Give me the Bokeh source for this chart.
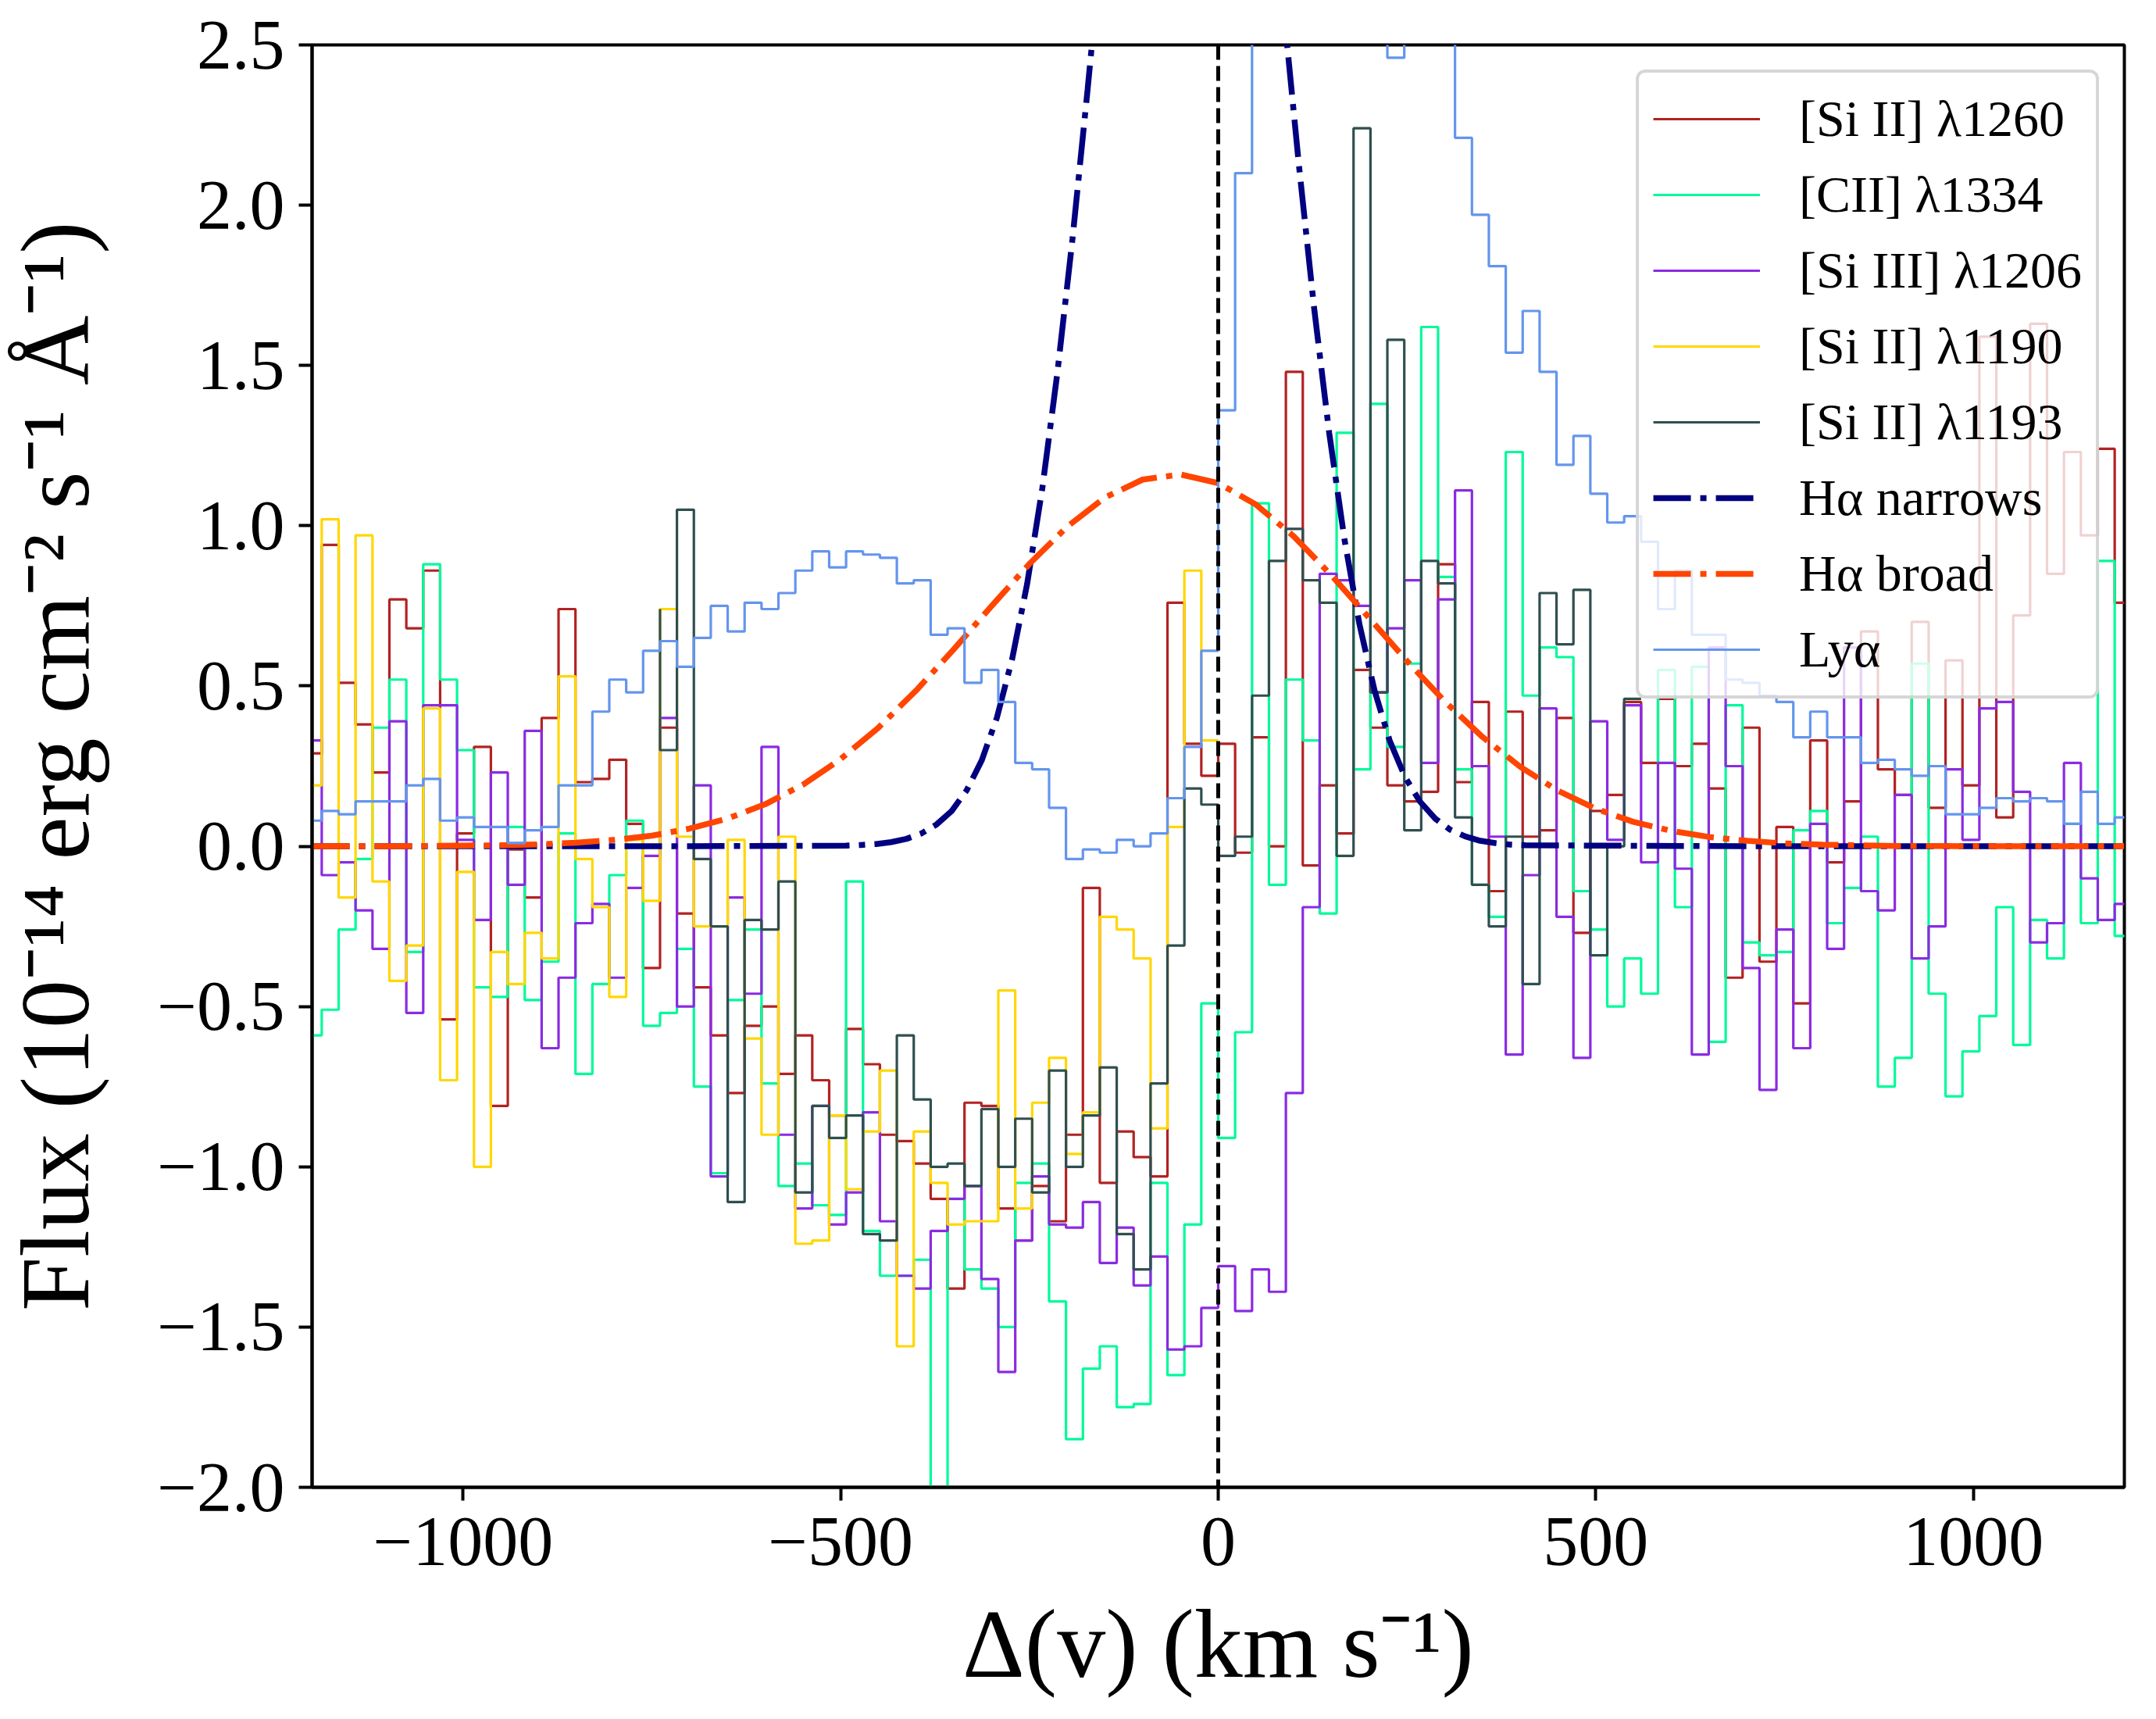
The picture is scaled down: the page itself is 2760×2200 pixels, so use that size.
import numpy as np
from bokeh.plotting import figure
from bokeh.models import (Legend, LegendItem, Span, FixedTicker,
                          CustomJSTickFormatter)
from bokeh.embed import file_html
from bokeh.resources import INLINE

# ---------------------------------------------------------------- data
# Common velocity binning (km/s): bin k spans [BIN_W*(k-53), BIN_W*(k-52)]
BIN_W = 22.4
ZERO_BIN = 53

# fluxes (1e-14 erg cm^-2 s^-1 A^-1) per bin, bins -1 .. 106
si2_1260 = [0.29, 0.94, 0.51, 0.38, 0.23, 0.77, 0.68, 0.86, -0.54, 0.04,
            0.31, -0.81, -0.01, -0.16, 0.40, 0.74, 0.20, 0.21, 0.27, 0.07,
            -0.38, 0.37, -0.21, -0.44, -0.59, -0.77, -0.56, -0.50, -0.71, -0.59,
            -0.73, -0.84, -0.57, -0.68, -0.90, -0.92, -0.99, -1.10, -1.38, -0.80,
            -0.81, -1.13, -1.23, -1.06, -1.17, -0.90, -0.13, -1.05, -0.89, -0.97,
            -1.03, 0.76, 0.32, 0.22, 0.32, -0.02, 0.34, 0.00, 1.48, -0.06,
            0.19, 0.04, 0.55, 0.37, 0.19, 0.14, 0.17, 0.88, 0.20, 0.45,
            -0.14, 0.42, 0.03, 0.05, 0.40, -0.27, 0.11, 0.16, 0.45, 0.26,
            0.46, 0.25, 0.32, 0.18, -0.41, 0.37, -0.36, 0.06, -0.49, 0.33,
            -0.05, 0.14, 0.67, 0.24, 0.16, 0.70, 0.12, 0.58, 0.19, 1.59,
            0.09, 0.72, 1.63, 0.85, 1.23, 0.97, 1.24, 0.76]

cii_1334 = [-0.59, -0.51, -0.26, -0.04, 0.37, 0.52, -0.33, 0.88, 0.52, 0.30,
            -0.44, -0.47, 0.06, -0.48, -0.36, 0.04, -0.71, -0.43, -0.09, 0.08,
            -0.56, -0.52, -0.32, -0.75, -1.02, -0.48, -0.26, -0.74, -1.06, -0.99,
            -1.12, -1.15, -0.11, -1.20, -1.34, -1.34, -1.29, -2.10, -1.10, -1.32,
            -1.38, -1.50, -1.05, -0.99, -1.42, -1.85, -1.63, -1.56, -1.75, -1.74,
            -1.05, -1.65, -1.18, -0.49, -0.91, -0.58, 1.07, -0.12, 0.52, 0.33,
            -0.21, 1.29, 0.24, 1.38, 0.31, 0.57, 1.62, 0.84, 0.24, -0.12,
            -0.22, 1.23, 0.47, 0.62, 0.59, -0.14, -0.26, -0.50, -0.35, -0.46,
            0.55, -0.19, 0.56, -0.61, 0.44, -0.30, -0.34, -0.33, 0.05, 0.11,
            -0.24, -0.13, 0.03, -0.75, -0.66, 0.57, -0.46, -0.78, -0.64, -0.53,
            -0.19, -0.62, -0.23, -0.35, 0.07, -0.24, 0.89, -0.28]

si3_1206 = [0.33, -0.09, -0.05, -0.20, -0.32, 0.39, -0.52, 0.44, 0.44, 0.02,
            -0.23, 0.23, -0.12, 0.36, -0.63, -0.41, -0.24, -0.18, -0.41, -0.13,
            -0.03, 0.40, -0.50, 0.19, -1.03, -0.16, -0.46, 0.31, -0.90, -1.13,
            -0.81, -1.18, -1.08, -0.83, -1.17, -1.34, -1.38, -1.20, -1.10, -1.06,
            -1.35, -1.64, -1.23, -1.03, -1.18, -1.19, -1.11, -1.30, -1.19, -1.37,
            -1.28, -1.57, -1.56, -1.44, -1.31, -1.45, -1.32, -1.39, -0.77, -0.19,
            0.85, 0.83, 0.75, 0.48, 0.68, 0.83, 0.26, 0.77, 1.11, 0.25,
            0.03, -0.65, -0.09, 0.43, -0.22, -0.66, 0.39, 0.02, 0.44, -0.05,
            0.26, -0.07, -0.65, 0.62, 0.25, -0.38, -0.76, -0.26, -0.63, 0.07,
            -0.32, 0.62, -0.14, -0.20, 0.16, -0.35, -0.25, 0.24, 0.02, 0.43,
            0.45, 0.17, -0.30, -0.24, 0.26, -0.10, -0.23, -0.18]

# bins -1 .. 52
si2_1190 = [0.19, 1.02, -0.16, 0.97, -0.11, -0.42, -0.31, 0.43, -0.73, -0.08,
            -1.00, -0.33, -0.43, -0.27, -0.35, 0.53, -0.04, -0.19, -0.47, 0.02,
            -0.17, 0.74, 0.03, -0.25, -0.25, 0.02, -0.60, -0.90, 0.03, -1.24,
            -1.23, -0.84, -1.07, -0.89, -0.70, -1.56, -0.89, -1.05, -1.18, -1.17,
            -1.17, -0.45, -1.13, -0.80, -0.66, -0.96, -0.83, -0.22, -0.26, -0.35,
            -0.88, 0.06, 0.86, 0.33]

# starts at the left edge of bin 20 with a first point, then bins 20 .. 77
si2_1193_first = 0.74
si2_1193 = [0.30, 1.05, -0.04, -0.25, -1.11, -0.23, -0.26, -0.11, -1.08, -0.81,
            -0.91, -0.84, -1.21, -1.23, -0.59, -0.79, -1.00, -0.99, -1.06, -0.82,
            -1.00, -0.85, -1.08, -0.70, -1.00, -0.84, -0.69, -1.21, -1.32, -0.74,
            -0.31, 0.18, 0.13, -0.03, 0.03, 0.47, 0.89, 0.99, 0.83, 0.76,
            -0.03, 2.24, 0.48, 1.58, 0.05, 0.89, 0.82, 0.09, -0.12, -0.25,
            0.03, -0.43, 0.79, 0.63, 0.80, -0.34, 0.00, 0.46]

# bins -1 .. 106
lya = [0.08, 0.11, 0.10, 0.14, 0.14, 0.14, 0.19, 0.21, 0.08, 0.09,
       0.06, 0.06, 0.01, 0.05, 0.06, 0.19, 0.19, 0.42, 0.52, 0.48,
       0.61, 0.64, 0.56, 0.65, 0.75, 0.67, 0.76, 0.74, 0.79, 0.86,
       0.92, 0.87, 0.92, 0.91, 0.90, 0.82, 0.83, 0.66, 0.68, 0.51,
       0.55, 0.45, 0.26, 0.24, 0.12, -0.04, -0.01, -0.02, 0.02, 0.00,
       0.04, 0.15, 0.31, 0.61, 1.36, 2.10, 2.90, 3.30, 3.60, 3.80,
       3.70, 3.40, 3.10, 2.80, 2.46, 2.70, 2.80, 2.60, 2.21, 1.97,
       1.81, 1.54, 1.67, 1.48, 1.19, 1.28, 1.10, 1.01, 1.03, 0.95,
       0.74, 0.86, 0.66, 0.66, 0.52, 0.51, 0.47, 0.45, 0.34, 0.42,
       0.34, 0.34, 0.26, 0.27, 0.24, 0.22, 0.25, 0.10, 0.10, 0.12,
       0.15, 0.14, 0.15, 0.14, 0.07, 0.17, 0.07, 0.09]

# H-alpha profiles
ha_narrow_v = [-1200, -700] + list(range(-493, 408, 20)) + [700, 1200]
ha_narrow_f = [0.0, 0.0,
               0.002, 0.004, 0.007, 0.013, 0.023, 0.040, 0.068, 0.110, 0.175, 0.269,
               0.402, 0.583, 0.819, 1.116, 1.477, 1.895, 2.360, 2.851, 3.341, 3.799,
               4.192, 4.487, 4.660, 4.696, 4.590, 4.354, 4.006, 3.577, 3.098, 2.603,
               2.122, 1.679, 1.289, 0.960, 0.693, 0.486, 0.330, 0.218, 0.140, 0.087,
               0.052, 0.031, 0.017, 0.010, 0.005, 0.003,
               0.0, 0.0]

ha_broad_v = list(range(-1200, 1201, 50))
ha_broad_f = [0.000, 0.000, 0.000, 0.001, 0.002, 0.003, 0.006, 0.011, 0.020, 0.033,
              0.055, 0.086, 0.131, 0.192, 0.272, 0.370, 0.486, 0.615, 0.750, 0.881,
              0.997, 1.088, 1.144, 1.160, 1.133, 1.066, 0.967, 0.845, 0.712, 0.578,
              0.452, 0.341, 0.248, 0.173, 0.117, 0.076, 0.048, 0.029, 0.017, 0.009,
              0.005, 0.003, 0.001, 0.001, 0.000, 0.000, 0.000, 0.000, 0.000]

x_ticks = [-1000, -500, 0, 500, 1000]
y_ticks = [-2.0, -1.5, -1.0, -0.5, 0.0, 0.5, 1.0, 1.5, 2.0, 2.5]

labels = ["[Si II] λ1260", "[CII] λ1334", "[Si III] λ1206", "[Si II] λ1190",
          "[Si II] λ1193", "Hα narrows", "Hα broad", "Lyα"]

x_label = "Δ(v) (km s⁻¹)"
y_label = "Flux (10⁻¹⁴ erg cm⁻² s⁻¹ Å⁻¹)"


def step_xy(start_bin, vals, first=None):
    """x = bin right edges (step 'before'), plus a starting point at the left edge."""
    n = len(vals)
    edges = BIN_W * (np.arange(start_bin, start_bin + n + 1) - ZERO_BIN)
    ys = [vals[0] if first is None else first] + list(vals)
    return list(edges), ys


# ---------------------------------------------------------------- figure
FONT = "Liberation Serif"
p = figure(width=2744, height=2184, x_range=(-1200, 1200), y_range=(-2.0, 2.5),
           output_backend="svg", toolbar_location=None,
           min_border_left=394, min_border_right=25, min_border_top=57,
           min_border_bottom=281)
p.xgrid.visible = False
p.ygrid.visible = False
p.background_fill_color = "white"
p.border_fill_color = "white"
p.outline_line_color = "black"
p.outline_line_width = 4

SW = 3.2
renderers = []
x, y = step_xy(-1, si2_1260)
renderers.append(p.step(x, y, mode="before", line_color="#b22222", line_width=SW))
x, y = step_xy(-1, cii_1334)
renderers.append(p.step(x, y, mode="before", line_color="#00fa9a", line_width=SW))
x, y = step_xy(-1, si3_1206)
renderers.append(p.step(x, y, mode="before", line_color="#8a2be2", line_width=SW))
x, y = step_xy(-1, si2_1190)
renderers.append(p.step(x, y, mode="before", line_color="#ffd700", line_width=SW))
x, y = step_xy(20, si2_1193, first=si2_1193_first)
renderers.append(p.step(x, y, mode="before", line_color="#2f4f4f", line_width=SW))
renderers.append(p.line(ha_narrow_v, ha_narrow_f, line_color="#000080", line_width=7.5,
                        line_dash="48 12 8 12"))
renderers.append(p.line(ha_broad_v, ha_broad_f, line_color="#ff4500", line_width=7.5,
                        line_dash="48 12 8 12"))
x, y = step_xy(-1, lya)
renderers.append(p.step(x, y, mode="before", line_color="#6495ed", line_width=SW))

p.add_layout(Span(location=0, dimension="height", line_color="black",
                  line_width=5, line_dash="19 8"))

# ---------------------------------------------------------------- axes
for ax in (p.xaxis[0], p.yaxis[0]):
    ax.axis_line_width = 4
    ax.major_tick_line_width = 4
    ax.major_tick_out = 17
    ax.major_tick_in = 0
    ax.minor_tick_line_color = None
    ax.major_label_text_font = FONT
    ax.major_label_text_font_size = "90px"
    ax.major_label_text_color = "black"
    ax.axis_label_text_font = FONT
    ax.axis_label_text_font_size = "124px"
    ax.axis_label_text_font_style = "normal"
    ax.axis_label_text_color = "black"
p.xaxis.ticker = FixedTicker(ticks=x_ticks)
p.yaxis.ticker = FixedTicker(ticks=y_ticks)
p.xaxis.formatter = CustomJSTickFormatter(
    code="return (tick < 0 ? '\u2212' : '') + Math.abs(tick).toFixed(0);")
p.yaxis.formatter = CustomJSTickFormatter(
    code="return (tick < -1e-9 ? '\u2212' : '') + Math.abs(tick).toFixed(1);")
p.xaxis.major_label_standoff = 22
p.yaxis.major_label_standoff = 18
p.xaxis.axis_label = x_label
p.yaxis.axis_label = y_label
p.xaxis.axis_label_standoff = 30
p.yaxis.axis_label_standoff = 58

# ---------------------------------------------------------------- legend
legend = Legend(items=[LegendItem(label=l, renderers=[r]) for l, r in zip(labels, renderers)],
                location="top_right", margin=32, padding=18, spacing=15,
                label_standoff=50, glyph_width=137, glyph_height=82, label_height=82,
                label_text_font=FONT, label_text_font_size="66px",
                label_text_color="black",
                border_line_color="#cccccc", border_line_width=4, border_line_alpha=0.8,
                background_fill_color="white", background_fill_alpha=0.8)
if "border_radius" in Legend.properties():
    legend.border_radius = 12
p.add_layout(legend)

open("out.html", "w").write(file_html(p, INLINE))
